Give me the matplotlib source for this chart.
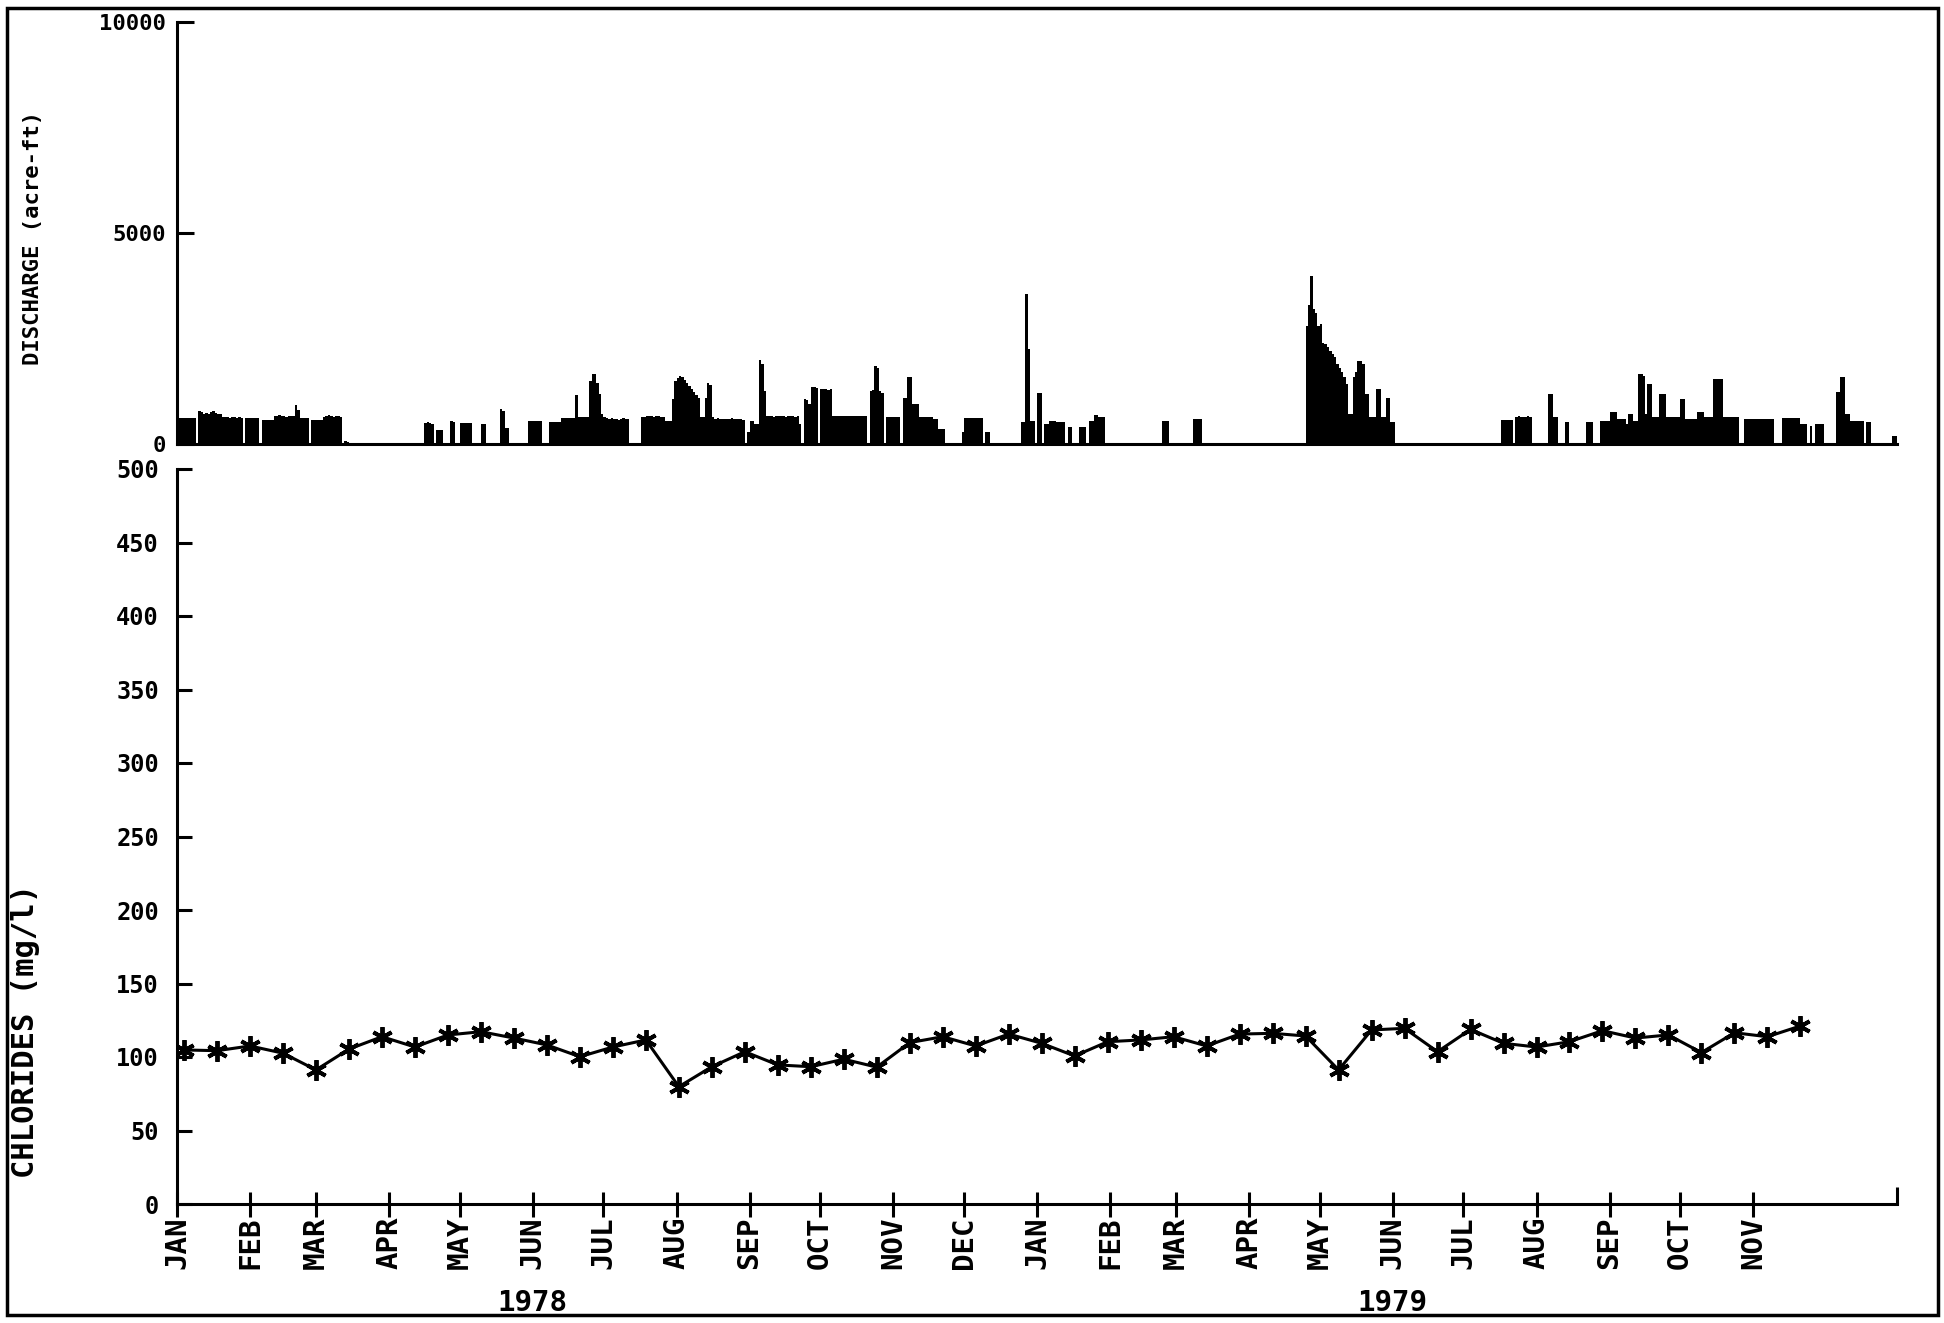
import matplotlib
matplotlib.use("Agg")
import matplotlib.pyplot as plt
import numpy as np
import pandas as pd
from matplotlib.patches import Rectangle

# daily discharge (acre-ft), one list per month, Jan 1978 - Dec 1979
jan78 = [620, 620, 620, 620, 620, 620, 620, 620, 0, 790, 760, 700, 730, 700, 760, 780,
         740, 720, 700, 650, 640, 630, 620, 640, 630, 620, 640, 620, 0, 620, 620]
feb78 = [620, 620, 620, 620, 0, 580, 580, 580, 580, 580, 660, 670, 680, 670, 660, 650,
         660, 670, 660, 930, 800, 620, 620, 620, 620, 0, 570, 570]
mar78 = [570, 570, 570, 650, 670, 680, 660, 640, 660, 670, 650, 0, 60, 50, 0, 0,
         0, 0, 0, 0, 0, 0, 0, 0, 0, 0, 0, 0, 0, 0, 0]
apr78 = [0, 0, 0, 0, 0, 0, 0, 0, 0, 0, 0, 0, 0, 0, 0, 490, 510, 490, 480, 0,
         330, 330, 330, 0, 0, 0, 540, 530, 0, 0]
may78 = [506, 506, 506, 506, 506, 0, 0, 0, 0, 474, 474, 0, 0, 0, 0, 0,
         0, 820, 790, 380, 380, 0, 0, 0, 0, 0, 0, 0, 0, 553, 553]
jun78 = [553, 553, 553, 553, 0, 0, 0, 513, 513, 513, 513, 513, 616, 610, 620, 616,
         612, 620, 1170, 650, 632, 632, 632, 632, 1500, 1660, 1650, 1450, 1185, 700]
jul78 = [630, 620, 600, 610, 590, 600, 580, 600, 610, 590, 600, 0, 0, 0, 0, 0,
         640, 650, 660, 655, 660, 650, 660, 655, 650, 640, 550, 550, 550, 1070, 1500]
aug78 = [1560, 1600, 1590, 1520, 1450, 1380, 1300, 1230, 1150, 1100, 650, 640, 1100, 1440, 1400, 650,
         600, 610, 590, 600, 600, 590, 600, 610, 600, 590, 600, 590, 580, 0, 280]
sep78 = [550, 550, 470, 470, 1980, 1900, 1260, 660, 670, 660, 650, 660, 670, 660, 660, 650,
         660, 670, 660, 650, 660, 470, 0, 1070, 1050, 950, 1340, 1360, 1320, 0]
oct78 = [1300, 1300, 1300, 1290, 1300, 670, 670, 660, 670, 670, 660, 670, 670, 660, 670,
         670, 660, 670, 670, 670, 0, 1260, 1270, 1860, 1800, 1264, 1200, 0, 650, 650, 650]
nov78 = [650, 650, 650, 0, 1100, 1100, 1580, 1580, 950, 950, 950, 630, 630, 630, 630,
         630, 630, 590, 590, 355, 355, 355, 0, 0, 0, 0, 0, 0, 0, 276]
dec78 = [616, 616, 616, 616, 616, 616, 616, 616, 0, 276, 276, 0, 0, 0, 0, 0,
         0, 0, 0, 0, 0, 0, 0, 0, 513, 513, 3555, 2250, 553, 553, 0]
jan79 = [1200, 1200, 0, 474, 474, 537, 537, 537, 513, 513, 513, 513, 0, 395, 395, 0,
         0, 0, 410, 410, 410, 0, 553, 553, 695, 695, 632, 632, 632, 0, 0]
feb79 = [0, 0, 0, 0, 0, 0, 0, 0, 0, 0, 0, 0, 0, 0, 0, 0,
         0, 0, 0, 0, 0, 0, 537, 537, 537, 0, 0, 0]
mar79 = [0, 0, 0, 0, 0, 0, 0, 593, 593, 593, 593, 0, 0, 0, 0, 0,
         0, 0, 0, 0, 0, 0, 0, 0, 0, 0, 0, 0, 0, 0, 0]
apr79 = [0, 0, 0, 0, 0, 0, 0, 0, 0, 0, 0, 0, 0, 0, 0, 0,
         0, 0, 0, 0, 0, 0, 0, 0, 2800, 3300, 3990, 3200, 3100, 2800]
may79 = [2850, 2400, 2370, 2300, 2200, 2130, 2050, 1900, 1800, 1700, 1580, 1420, 711, 711, 1580, 1700,
         1975, 1975, 1900, 1185, 1185, 632, 632, 632, 1300, 1300, 632, 632, 1100, 1100, 513]
jun79 = [513, 0, 0, 0, 0, 0, 0, 0, 0, 0, 0, 0, 0, 0, 0, 0,
         0, 0, 0, 0, 0, 0, 0, 0, 0, 0, 0, 0, 0, 0]
jul79 = [0, 0, 0, 0, 0, 0, 0, 0, 0, 0, 0, 0, 0, 0, 0, 0,
         570, 570, 570, 570, 570, 0, 650, 660, 650, 640, 650, 660, 650, 0, 0]
aug79 = [0, 0, 0, 0, 0, 1185, 1185, 632, 632, 0, 0, 0, 513, 513, 0, 0,
         0, 0, 0, 0, 0, 513, 513, 513, 0, 0, 0, 553, 553, 553, 553]
sep79 = [750, 750, 750, 593, 593, 593, 593, 474, 711, 711, 553, 553, 1660, 1660, 1600,
         711, 1420, 1420, 632, 632, 632, 1185, 1185, 1185, 650, 650, 650, 650, 650, 650]
oct79 = [1067, 1067, 593, 593, 593, 593, 593, 750, 750, 750, 632, 632, 632, 632, 1540, 1540,
         1540, 1540, 632, 632, 632, 632, 632, 632, 632, 0, 0, 593, 593, 593, 593]
nov79 = [593, 593, 593, 593, 593, 593, 593, 593, 593, 0, 0, 0, 616, 616, 616, 616,
         616, 616, 616, 616, 474, 474, 474, 0, 434, 0, 474, 474, 474, 474]
dec79 = [0, 0, 0, 0, 0, 1225, 1225, 1580, 1580, 711, 711, 553, 553, 553, 553, 553,
         553, 0, 513, 513, 0, 0, 0, 0, 0, 0, 0, 0, 0, 200, 200]

# chlorides (mg/l), sampled every two weeks, day number from 1 Jan 1978
sample_days = [3, 17, 31, 45, 59, 73, 87, 101, 115, 129, 143, 157, 171, 185, 199, 213,
               227, 241, 255, 269, 283, 297, 311, 325, 339, 353, 367, 381, 395, 409,
               423, 437, 451, 465, 479, 493, 507, 521, 535, 549, 563, 577, 591, 605,
               619, 633, 647, 661, 675, 689]
chlorides = [104.8, 104.3, 107.5, 102.6, 91.2, 105.4, 113.8, 106.8, 115.0, 117.2,
             112.9, 108.2, 100.2, 106.8, 111.6, 79.8, 93.4, 103.6, 94.6, 93.4,
             98.5, 93.1, 109.8, 113.8, 107.5, 115.6, 109.3, 100.7, 110.4, 111.6,
             113.8, 107.5, 115.6, 116.1, 114.3, 91.2, 118.4, 119.5, 103.6, 118.8,
             109.3, 106.8, 110.4, 117.9, 112.9, 115.0, 103.0, 116.5, 113.8, 121.1]

month_labels = ["JAN", "FEB", "MAR", "APR", "MAY", "JUN", "JUL", "AUG", "SEP", "OCT", "NOV", "DEC",
                "JAN", "FEB", "MAR", "APR", "MAY", "JUN", "JUL", "AUG", "SEP", "OCT", "NOV"]
years = ["1978", "1979"]


def main():
    plt.rcParams["font.family"] = ["DejaVu Sans Mono"]
    plt.rcParams["font.weight"] = "bold"

    discharge = np.concatenate([jan78, feb78, mar78, apr78, may78, jun78, jul78, aug78,
                                sep78, oct78, nov78, dec78, jan79, feb79, mar79, apr79,
                                may79, jun79, jul79, aug79, sep79, oct79, nov79, dec79])
    days = np.arange(len(discharge))

    start = pd.Timestamp("1978-01-01")
    month_starts = pd.date_range("1978-01-01", "1980-01-01", freq="MS")
    month_days = np.array((month_starts - start).days)
    ndays = month_days[-1]

    W, H = 1944, 1323
    fig = plt.figure(figsize=(W / 100, H / 100), dpi=100)

    def box(x0, y0, x1, y1):
        return [x0 / W, 1 - y1 / H, (x1 - x0) / W, (y1 - y0) / H]

    lw = 2.2

    # discharge panel
    ax1 = fig.add_axes(box(177, 22, 1897, 444))
    ax1.bar(days, discharge, width=1.0, align="edge", color="black", linewidth=0)
    ax1.set_xlim(0, ndays)
    ax1.set_ylim(0, 10000)
    for s in ["top", "right"]:
        ax1.spines[s].set_visible(False)
    for s in ["left", "bottom"]:
        ax1.spines[s].set_linewidth(lw)
    ax1.set_xticks([])
    ax1.set_yticks([0, 5000, 10000])
    ax1.set_yticklabels(["0", "5000", "10000"])
    ax1.tick_params(axis="y", direction="in", length=12, width=lw, pad=8, labelsize=16)

    fig.text(33 / W, 1 - 238 / H, "DISCHARGE (acre-ft)", rotation=90,
             ha="center", va="center", fontsize=16, fontweight="bold")

    # chlorides panel
    ax2 = fig.add_axes(box(177, 469, 1897, 1204))
    ax2.plot(sample_days, chlorides, color="black", linewidth=lw,
             marker=(6, 2, 0), markersize=15, markeredgewidth=2.8)
    ax2.set_xlim(0, ndays)
    ax2.set_ylim(0, 500)
    for s in ["top", "right"]:
        ax2.spines[s].set_visible(False)
    for s in ["left", "bottom"]:
        ax2.spines[s].set_linewidth(lw)
    ax2.set_yticks(np.arange(0, 501, 50))
    ax2.tick_params(axis="y", direction="in", length=11, width=lw, pad=13, labelsize=17)
    ax2.set_xticks(month_days[:len(month_labels)])
    ax2.set_xticklabels(month_labels, rotation=90, fontsize=21)
    ax2.tick_params(axis="x", direction="inout", length=18, width=lw, pad=0)
    ax2.set_xticks([ndays], minor=True)
    ax2.tick_params(axis="x", which="minor", direction="in", length=12, width=lw)

    for yr, d in zip(years, month_days[[5, 17]]):
        ax2.text(d, -0.135, yr, transform=ax2.get_xaxis_transform(),
                 ha="center", va="center", fontsize=21, fontweight="bold")

    fig.text(26 / W, 1 - 1031 / H, "CHLORIDES (mg/l)", rotation=90,
             ha="center", va="center", fontsize=22, fontweight="bold")

    fig.patches.append(Rectangle((7 / W, 1 - 1315 / H), (1938 - 7) / W, (1315 - 8) / H,
                                 transform=fig.transFigure, fill=False,
                                 edgecolor="black", linewidth=2.5))

    fig.savefig("out.png", dpi=100)


if __name__ == "__main__":
    main()
